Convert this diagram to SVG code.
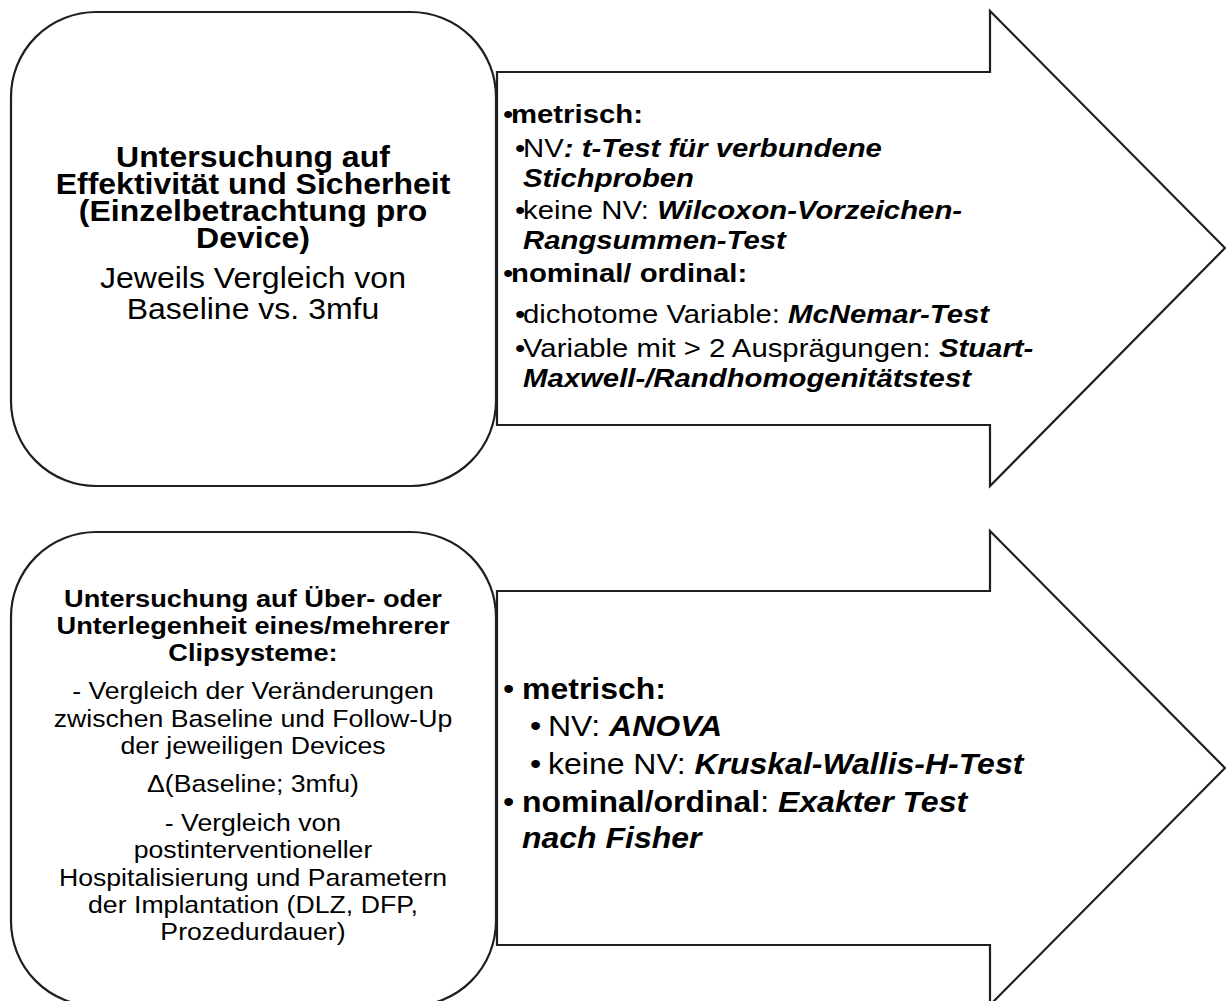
<svg xmlns="http://www.w3.org/2000/svg" width="1226" height="1001" viewBox="0 0 1226 1001">
<style>
.shape{fill:#fff;stroke:#1f1f1f;stroke-width:2.2;stroke-linejoin:miter}
.t{font-family:"Liberation Sans",Arial,sans-serif;fill:#000}
.c{text-anchor:middle}
.b{font-weight:bold}
.bi{font-weight:bold;font-style:italic}
.s26{font-size:26.4px}
.s29{font-size:28.8px}
.s24{font-size:24px}
.s24b{font-size:24.5px}
</style>
<rect width="1226" height="1001" fill="#fff"/>
<g id="connectors">
<polygon id="arrow-top" class="shape" points="497,72 990,72 990,11 1225,248 990,486 990,425 497,425"/>
<polygon id="arrow-bottom" class="shape" points="497,591 990,591 990,531 1225,768 990,1005 990,945 497,945"/>
</g>
<g id="node-top-box">
<rect class="shape" x="11" y="12" width="485" height="474" rx="85" ry="85"/>
<g transform="scale(1.1111,1)" class="t c s29">
<text class="b" x="227.7" y="167">Untersuchung auf</text>
<text class="b" x="227.7" y="194">Effektivität und Sicherheit</text>
<text class="b" x="227.7" y="221">(Einzelbetrachtung pro</text>
<text class="b" x="227.7" y="248">Device)</text>
<text x="227.7" y="288">Jeweils Vergleich von</text>
<text x="227.7" y="319">Baseline vs. 3mfu</text>
</g>
</g>
<g id="node-top-arrow-text" transform="scale(1.1111,1)" class="t s26">
<text x="452.7" y="123">•</text><text class="b" x="459.9" y="123">metrisch:</text>
<text x="463.5" y="157">•</text><text x="470.7" y="157">NV<tspan class="bi">: t-Test für verbundene</tspan></text>
<text class="bi" x="470.7" y="187">Stichproben</text>
<text x="463.5" y="219">•</text><text x="470.7" y="219">keine NV: <tspan class="bi">Wilcoxon-Vorzeichen-</tspan></text>
<text class="bi" x="470.7" y="249">Rangsummen-Test</text>
<text x="452.7" y="282">•</text><text class="b" x="459.9" y="282">nominal/ ordinal:</text>
<text x="463.5" y="323">•</text><text x="470.7" y="323">dichotome Variable: <tspan class="bi">McNemar-Test</tspan></text>
<text x="463.5" y="357">•</text><text x="470.7" y="357">Variable mit &gt; 2 Ausprägungen: <tspan class="bi">Stuart-</tspan></text>
<text class="bi" x="470.7" y="387">Maxwell-/Randhomogenitätstest</text>
</g>
<g id="node-bottom-box">
<rect class="shape" x="11" y="532" width="485" height="474" rx="85" ry="85"/>
<g transform="scale(1.1111,1)" class="t c s24">
<text class="b s24b" x="227.7" y="607">Untersuchung auf Über- oder</text>
<text class="b s24b" x="227.7" y="634">Unterlegenheit eines/mehrerer</text>
<text class="b s24b" x="227.7" y="661">Clipsysteme:</text>
<text x="227.7" y="699">- Vergleich der Veränderungen</text>
<text x="227.7" y="727">zwischen Baseline und Follow-Up</text>
<text x="227.7" y="754">der jeweiligen Devices</text>
<text x="227.7" y="792">Δ(Baseline; 3mfu)</text>
<text x="227.7" y="831">- Vergleich von</text>
<text x="227.7" y="858">postinterventioneller</text>
<text x="227.7" y="886">Hospitalisierung und Parametern</text>
<text x="227.7" y="913">der Implantation (DLZ, DFP,</text>
<text x="227.7" y="940">Prozedurdauer)</text>
</g>
</g>
<g id="node-bottom-arrow-text" transform="scale(1.1111,1)" class="t s29">
<text x="452.7" y="699">•</text><text class="b" x="469.8" y="699">metrisch:</text>
<text x="477" y="736">•</text><text x="493.2" y="736">NV: <tspan class="bi">ANOVA</tspan></text>
<text x="477" y="774">•</text><text x="493.2" y="774">keine NV: <tspan class="bi">Kruskal-Wallis-H-Test</tspan></text>
<text x="452.7" y="812">•</text><text x="469.8" y="812"><tspan class="b">nominal/ordinal</tspan>: <tspan class="bi">Exakter Test</tspan></text>
<text class="bi" x="469.8" y="848">nach Fisher</text>
</g>
</svg>
